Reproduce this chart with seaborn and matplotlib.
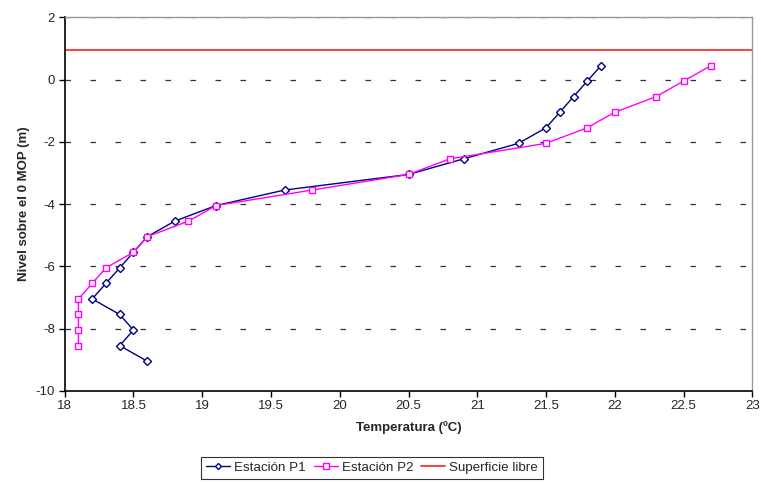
import pandas as pd
import matplotlib.pyplot as plt
import seaborn as sns

# === DONNÉES ===
niveles = [0.45, -0.05, -0.55, -1.05, -1.55, -2.05, -2.55, -3.05, -3.55, -4.05,
           -4.55, -5.05, -5.55, -6.05, -6.55, -7.05, -7.55, -8.05, -8.55, -9.05]
temp_p1 = [21.9, 21.8, 21.7, 21.6, 21.5, 21.3, 20.9, 20.5, 19.6, 19.1,
           18.8, 18.6, 18.5, 18.4, 18.3, 18.2, 18.4, 18.5, 18.4, 18.6]
niveles_p2 = niveles[:-1]
temp_p2 = [22.7, 22.5, 22.3, 22.0, 21.8, 21.5, 20.8, 20.5, 19.8, 19.1,
           18.9, 18.6, 18.5, 18.3, 18.2, 18.1, 18.1, 18.1, 18.1]
superficie_libre = 0.95

df1 = pd.DataFrame({'temp': temp_p1, 'nivel': niveles})
df2 = pd.DataFrame({'temp': temp_p2, 'nivel': niveles_p2})

sns.set_style('white')
plt.rcParams['font.family'] = ['Liberation Sans', 'DejaVu Sans']
plt.rcParams['lines.scale_dashes'] = False
plt.rcParams['axes.unicode_minus'] = False

fig = plt.figure(figsize=(7.61, 4.83), dpi=100)
ax = fig.add_axes([0.085, 0.191, 0.9036, 0.7732])

# lignes de grille pointillées
for y in [0, -2, -4, -6, -8, 2]:
    ax.axhline(y, color='#333333', lw=0.9, dashes=(4, 14), zorder=0)

sns.lineplot(data=df1, x='temp', y='nivel', sort=False, estimator=None,
             color='#000080', lw=1, marker='D', markersize=3.8,
             markerfacecolor='white', markeredgecolor='#000080', markeredgewidth=1,
             label='Estación P1', ax=ax)
sns.lineplot(data=df2, x='temp', y='nivel', sort=False, estimator=None,
             color='#FF00FF', lw=1, marker='s', markersize=5,
             markerfacecolor='white', markeredgecolor='#FF00FF', markeredgewidth=1,
             label='Estación P2', ax=ax)
ax.axhline(superficie_libre, color='#FF2020', lw=1.2, label='Superficie libre')

ax.set_xlim(18, 23)
ax.set_ylim(-10, 2)
ax.set_xticks([18, 18.5, 19, 19.5, 20, 20.5, 21, 21.5, 22, 22.5, 23])
ax.set_xticklabels(['18', '18.5', '19', '19.5', '20', '20.5', '21', '21.5', '22', '22.5', '23'])
ax.set_yticks(range(-10, 3, 2))

for s in ['left', 'bottom']:
    ax.spines[s].set_color('black')
    ax.spines[s].set_linewidth(1.2)
for s in ['top', 'right']:
    ax.spines[s].set_color('#999999')
    ax.spines[s].set_linewidth(1)
ax.tick_params(axis='both', direction='out', length=4, width=1, color='black',
               labelsize=9.5, pad=3, left=True, bottom=True)

ax.set_xlabel('Temperatura (ºC)', fontsize=9.5, fontweight='bold', labelpad=6)
ax.set_ylabel('Nivel sobre el 0 MOP (m)', fontsize=9.5, fontweight='bold', labelpad=4)

leg = ax.legend(loc='upper center', bbox_to_anchor=(0.447, -0.177), ncol=3,
                frameon=True, fancybox=False, edgecolor='black', fontsize=9.6,
                handlelength=1.8, handletextpad=0.3, columnspacing=0.6,
                markerscale=0.8, borderpad=0.35, borderaxespad=0)
leg.get_frame().set_linewidth(0.8)

fig.savefig('out.png', dpi=100)
plt.close(fig)
